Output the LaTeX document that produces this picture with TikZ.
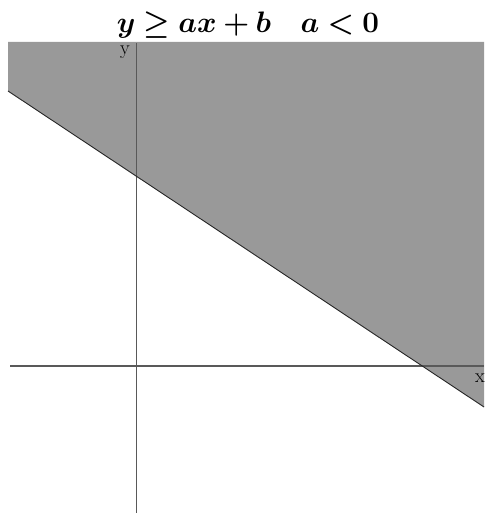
\documentclass[tikz,border=0pt]{standalone}
\usepackage{amsmath,amssymb}
\usepackage{bm}
\usetikzlibrary{calc}
\begin{document}
\begin{tikzpicture}[x=1pt, y=-1pt]
    \useasboundingbox (0,0) rectangle (484,513);
    % title
    \node[anchor=base, scale=1.19, inner sep=0pt](title)at(248,33){\Huge$\bm{y \geq ax + b \quad a < 0}$};
    % region
    \coordinate(L)at(8,91);
    \coordinate(R)at(484,407);
    \path[fill=black!40](8,42)--(484,42)--(R)--(L)--cycle;
    % axis
    \coordinate(xs)at(10,366);
    \coordinate(xe)at(484,366);
    \coordinate(ys)at(136.5,513);
    \coordinate(ye)at(136.5,43);
    \path[draw, black!65, line width=1.3pt](xs)to(xe);
    \path[draw, black!65, line width=1.3pt](ys)to(ye);
    \node[anchor=base, inner sep=0pt](ylab)at(125,55){\fontsize{20}{22}\selectfont y};
    \node[anchor=base, inner sep=0pt](xlab)at(480,382){\fontsize{20}{22}\selectfont x};
    % line
    \path[draw, black!85, line width=0.9pt](L)to(R);
\end{tikzpicture}
\end{document}
